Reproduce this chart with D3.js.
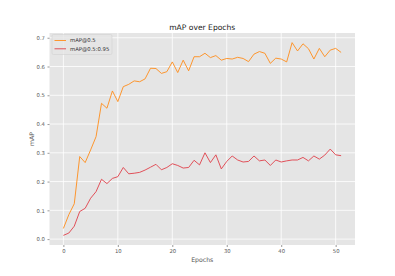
<!DOCTYPE html>
<html>
<head>
<meta charset="utf-8">
<script src="https://cdn.jsdelivr.net/npm/d3@7"></script>
<style>
  body { margin: 0; background: #fff; }
  text { font-family: "DejaVu Sans", sans-serif; }
</style>
</head>
<body>
<div id="chart"></div>
<script>
// Datos
// =====
var epochs = d3.range(0, 52);
var map50 = [0.037, 0.085, 0.123, 0.287, 0.266, 0.31, 0.356, 0.472, 0.455, 0.515,
  0.478, 0.53, 0.538, 0.55, 0.547, 0.557, 0.594, 0.593, 0.576, 0.582,
  0.616, 0.579, 0.622, 0.585, 0.634, 0.634, 0.646, 0.631, 0.638, 0.622,
  0.628, 0.626, 0.632, 0.628, 0.617, 0.643, 0.652, 0.646, 0.611, 0.629,
  0.626, 0.616, 0.683, 0.654, 0.679, 0.662, 0.626, 0.663, 0.634, 0.657,
  0.663, 0.649];
var map5095 = [0.013, 0.021, 0.045, 0.096, 0.107, 0.142, 0.165, 0.208, 0.193, 0.211,
  0.217, 0.249, 0.227, 0.229, 0.232, 0.24, 0.25, 0.26, 0.241, 0.249,
  0.262, 0.256, 0.247, 0.249, 0.274, 0.258, 0.3, 0.266, 0.293, 0.244,
  0.27, 0.289, 0.275, 0.268, 0.27, 0.289, 0.272, 0.275, 0.256, 0.275,
  0.268, 0.272, 0.275, 0.275, 0.284, 0.272, 0.289, 0.278, 0.292, 0.313,
  0.293, 0.29];
var xTicks = [0, 10, 20, 30, 40, 50];
var yTicks = [0.0, 0.1, 0.2, 0.3, 0.4, 0.5, 0.6, 0.7];
var seriesNames = ["mAP@0.5", "mAP@0.5:0.95"];
var colors = ["#ff8c1a", "#e0404a"];

// Dimensiones
// ===========
var W = 395, H = 276;
var margin = { top: 33, right: 40, bottom: 31, left: 49.5 },
  width = W - margin.left - margin.right,
  height = H - margin.top - margin.bottom;

var svg = d3.select("#chart")
  .append("svg")
  .attr("width", W)
  .attr("height", H);

var g = svg.append("g")
  .attr("transform", "translate(" + margin.left + "," + margin.top + ")");

// Escalas (margen 5% como matplotlib)
var xPad = (d3.max(epochs) - d3.min(epochs)) * 0.05;
var x = d3.scaleLinear()
  .domain([d3.min(epochs) - xPad, d3.max(epochs) + xPad])
  .range([0, width]);

var allVals = map50.concat(map5095);
var yMin = d3.min(allVals), yMax = d3.max(allVals);
var yPad = (yMax - yMin) * 0.05;
var y = d3.scaleLinear()
  .domain([yMin - yPad, yMax + yPad])
  .range([height, 0]);

// Fondo
g.append("rect")
  .attr("width", width)
  .attr("height", height)
  .attr("fill", "#e5e5e5");

// Rejilla
g.selectAll(".gy").data(yTicks).enter().append("line")
  .attr("x1", 0).attr("x2", width)
  .attr("y1", function(d) { return y(d); })
  .attr("y2", function(d) { return y(d); })
  .attr("stroke", "#fff").attr("stroke-width", 0.8);
g.selectAll(".gx").data(xTicks).enter().append("line")
  .attr("y1", 0).attr("y2", height)
  .attr("x1", function(d) { return x(d); })
  .attr("x2", function(d) { return x(d); })
  .attr("stroke", "#fff").attr("stroke-width", 0.8);

// Ejes
var xAxis = g.append("g")
  .attr("transform", "translate(0," + height + ")")
  .call(d3.axisBottom(x).tickValues(xTicks).tickSize(2).tickPadding(2).tickFormat(d3.format("d")));
var yAxis = g.append("g")
  .call(d3.axisLeft(y).tickValues(yTicks).tickSize(2).tickPadding(2.5).tickFormat(d3.format(".1f")));

[xAxis, yAxis].forEach(function(a) {
  a.select(".domain").remove();
  a.selectAll("line").attr("stroke", "#555").attr("stroke-width", 0.6);
  a.selectAll("text").attr("fill", "#555").style("font-size", "5.3px")
    .style("font-family", "DejaVu Sans");
});

// Lineas
var series = [map50, map5095];
series.forEach(function(s, i) {
  g.append("path")
    .datum(s)
    .attr("fill", "none")
    .attr("stroke", colors[i])
    .attr("stroke-width", 0.9)
    .attr("stroke-linejoin", "round")
    .attr("d", d3.line()
      .x(function(d, j) { return x(epochs[j]); })
      .y(function(d) { return y(d); }));
});

// Titulo y etiquetas
svg.append("text")
  .attr("x", margin.left + width / 2)
  .attr("y", 29.5)
  .attr("text-anchor", "middle")
  .attr("fill", "#222")
  .style("font-size", "7.6px")
  .text("mAP over Epochs");

svg.append("text")
  .attr("x", margin.left + width / 2)
  .attr("y", 262)
  .attr("text-anchor", "middle")
  .attr("fill", "#555")
  .style("font-size", "6.2px")
  .text("Epochs");

svg.append("text")
  .attr("transform", "translate(34," + (margin.top + height / 2) + ") rotate(-90)")
  .attr("text-anchor", "middle")
  .attr("fill", "#555")
  .style("font-size", "6.2px")
  .text("mAP");

// Leyenda
var lg = g.append("g").attr("transform", "translate(2.5,1.5)");
lg.append("rect")
  .attr("width", 60).attr("height", 20).attr("rx", 1.5)
  .attr("fill", "#e5e5e5").attr("fill-opacity", 0.8)
  .attr("stroke", "#cccccc").attr("stroke-width", 0.5);
seriesNames.forEach(function(n, i) {
  lg.append("line")
    .attr("x1", 2.5).attr("x2", 14)
    .attr("y1", 6 + i * 8.3).attr("y2", 6 + i * 8.3)
    .attr("stroke", colors[i]).attr("stroke-width", 0.9);
  lg.append("text")
    .attr("x", 18).attr("y", 6 + i * 8.3)
    .attr("dy", "0.35em")
    .attr("fill", "#333")
    .style("font-size", "5.3px")
    .text(n);
});
</script>
</body>
</html>
